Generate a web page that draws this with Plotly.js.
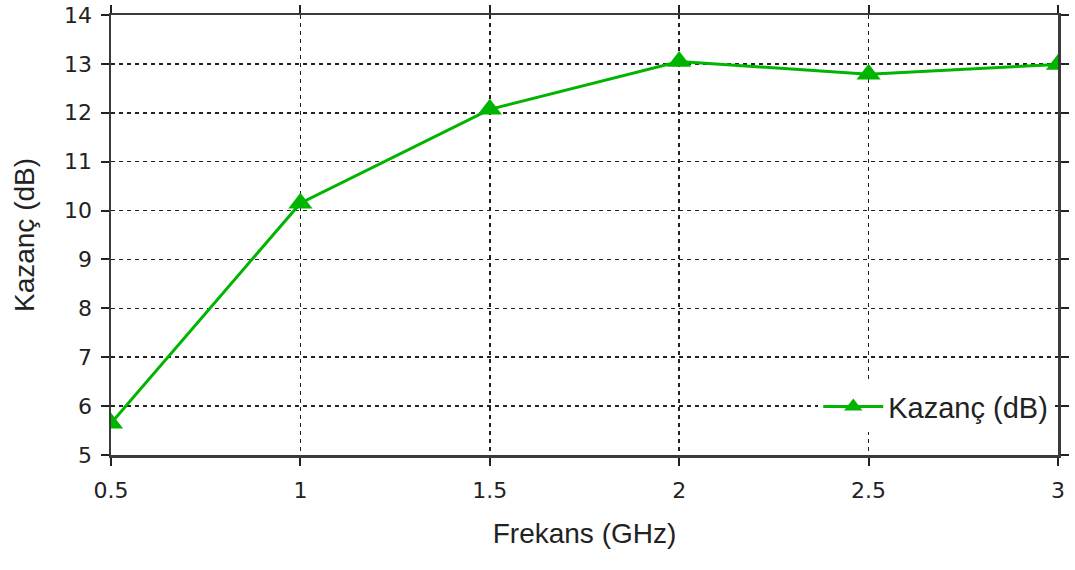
<!DOCTYPE html>
<html>
<head>
<meta charset="utf-8">
<script src="https://cdn.plot.ly/plotly-3.0.1.min.js"></script>
<style>html,body{margin:0;padding:0;background:#fff;}#chart{width:1075px;height:570px;}</style>
</head>
<body>
<div id="chart"></div>
<script>
const frequencies = [0.5, 1, 1.5, 2, 2.5, 3];
const gainDb = [5.65, 10.15, 12.07, 13.05, 12.79, 12.99];
const seriesName = 'Kazanç (dB)';
const xTicks = [0.5, 1, 1.5, 2, 2.5, 3];
const xTickLabels = ['0.5', '1', '1.5', '2', '2.5', '3'];
const yTicks = [5, 6, 7, 8, 9, 10, 11, 12, 13, 14];

const trace = {
  x: frequencies, y: gainDb, name: seriesName, type: 'scatter', mode: 'lines+markers',
  line: {color: '#00b400', width: 3},
  marker: {symbol: 'triangle-up', size: 21, color: '#00b400'}
};
const tickFont = {family: 'DejaVu Sans', size: 22, color: '#222'};
const titleFont = {family: 'Liberation Sans', size: 28, color: '#222'};
const axisCommon = {
  showline: true, linecolor: '#3a3a3a', linewidth: 2.5, mirror: 'ticks',
  ticks: 'outside', ticklen: 8, tickcolor: '#222', tickwidth: 2,
  showgrid: true, gridcolor: '#222', griddash: '4px,4px', gridwidth: 1.5,
  zeroline: false,
  tickfont: tickFont
};
const layout = {
  width: 1075, height: 570,
  margin: {l: 111, r: 17, t: 15, b: 115},
  paper_bgcolor: '#fff', plot_bgcolor: '#fff',
  showlegend: true,
  legend: {x: 0.995, y: 0.11, xanchor: 'right', yanchor: 'middle', bgcolor: '#fff', borderwidth: 0,
    itemwidth: 60, font: {family: 'Liberation Sans', size: 29, color: '#222'}},
  xaxis: Object.assign({}, axisCommon, {
    range: [0.5, 3], tickvals: xTicks, ticktext: xTickLabels, ticklabelstandoff: 6,
    title: {text: 'Frekans (GHz)', standoff: 22, font: titleFont}
  }),
  yaxis: Object.assign({}, axisCommon, {
    range: [5, 14], tickvals: yTicks, ticklabelstandoff: 4,
    title: {text: 'Kazanç (dB)', standoff: 22, font: titleFont}
  })
};
Plotly.newPlot('chart', [trace], layout, {displayModeBar: false, staticPlot: true});
</script>
</body>
</html>
